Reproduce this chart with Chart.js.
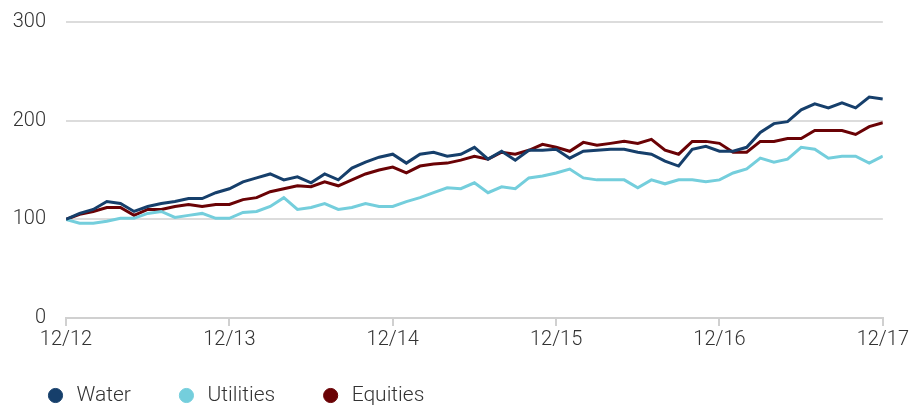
<!DOCTYPE html>
<html>
<head>
<meta charset="utf-8">
<script src="https://cdn.jsdelivr.net/npm/chart.js@4/dist/chart.umd.min.js"></script>
<style>
  html, body { margin: 0; padding: 0; background: #fff; overflow: hidden; }
  #wrap { width: 911px; height: 405px; }
</style>
</head>
<body>
<div id="wrap"><canvas id="grafico"></canvas></div>
<script>
// Rótulos dos anos no eixo x (um a cada 12 meses)
const anos = ['12/12', '12/13', '12/14', '12/15', '12/16', '12/17'];

// Séries mensais (base 100 em 12/12)
const water = [100, 106, 110, 118, 116, 108, 113, 116, 118, 121, 121, 127,
  131, 138, 142, 146, 140, 143, 137, 146, 140, 152, 158, 163,
  166, 157, 166, 168, 164, 166, 173, 161, 169, 160, 170, 170,
  171, 162, 169, 170, 171, 171, 168, 166, 159, 154, 171, 174,
  169, 169, 173, 188, 197, 199, 211, 217, 213, 218, 213, 224, 222];

const utilities = [100, 96, 96, 98, 101, 101, 106, 108, 102, 104, 106, 101,
  101, 107, 108, 113, 122, 110, 112, 116, 110, 112, 116, 113,
  113, 118, 122, 127, 132, 131, 137, 127, 133, 131, 142, 144,
  147, 151, 142, 140, 140, 140, 132, 140, 136, 140, 140, 138,
  140, 147, 151, 162, 158, 161, 173, 171, 162, 164, 164, 157, 164];

const equities = [100, 105, 108, 112, 112, 104, 110, 110, 113, 115, 113, 115,
  115, 120, 122, 128, 131, 134, 133, 138, 134, 140, 146, 150,
  153, 147, 154, 156, 157, 160, 164, 161, 168, 166, 170, 176,
  173, 169, 178, 175, 177, 179, 177, 181, 170, 166, 179, 179,
  177, 168, 168, 179, 179, 182, 182, 190, 190, 190, 186, 194, 198];

const pontos = serie => serie.map((v, i) => ({ x: i, y: v }));

const fonte = { family: "'Roboto', sans-serif", size: 20, weight: 300 };
const fonteLegenda = { family: "'Roboto', sans-serif", size: 21, weight: 300 };

// Desce a legenda para a posição do original (o padding largo a empurraria para cima)
const ajusteLegenda = {
  id: 'ajusteLegenda',
  afterLayout(chart) {
    const l = chart.legend;
    l.top = 340;
    l.bottom = chart.height + 30;
    l.height = l.bottom - l.top;
  }
};

new Chart(document.getElementById('grafico'), {
  type: 'line',
  data: {
    datasets: [
      { label: 'Water', data: pontos(water), borderColor: '#163f6b', backgroundColor: '#163f6b' },
      { label: 'Utilities', data: pontos(utilities), borderColor: '#74cedc', backgroundColor: '#74cedc' },
      { label: 'Equities', data: pontos(equities), borderColor: '#6a0205', backgroundColor: '#6a0205' }
    ]
  },
  plugins: [ajusteLegenda],
  options: {
    responsive: true,
    maintainAspectRatio: false,
    animation: false,
    elements: {
      line: { borderWidth: 3, tension: 0 },
      point: { radius: 0 }
    },
    layout: {
      padding: { top: 22, right: 0, left: 0, bottom: 0 }
    },
    plugins: {
      tooltip: { enabled: false },
      legend: {
        position: 'bottom',
        align: 'start',
        maxHeight: 47,
        labels: {
          usePointStyle: true,
          pointStyle: 'circle',
          boxWidth: 21,
          boxHeight: 10,
          padding: 45,
          color: '#333',
          font: fonteLegenda
        }
      }
    },
    scales: {
      x: {
        type: 'linear',
        min: 0,
        max: 60,
        afterFit: s => { s.height = 40; },
        border: { color: '#d0d0d0', width: 2 },
        grid: {
          drawOnChartArea: false,
          color: '#d0d0d0',
          lineWidth: 2,
          tickLength: 8
        },
        ticks: {
          stepSize: 12,
          color: '#333',
          font: fonte,
          padding: 2,
          maxRotation: 0,
          callback: v => anos[v / 12]
        }
      },
      y: {
        min: 0,
        max: 300,
        afterFit: s => { s.width = 66; },
        border: { display: false },
        grid: {
          color: '#dcdcdc',
          lineWidth: 2,
          tickLength: 20,
          tickColor: 'rgba(0,0,0,0)'
        },
        ticks: {
          stepSize: 100,
          color: '#333',
          font: fonte,
          padding: 0
        }
      }
    }
  }
});
</script>
</body>
</html>
